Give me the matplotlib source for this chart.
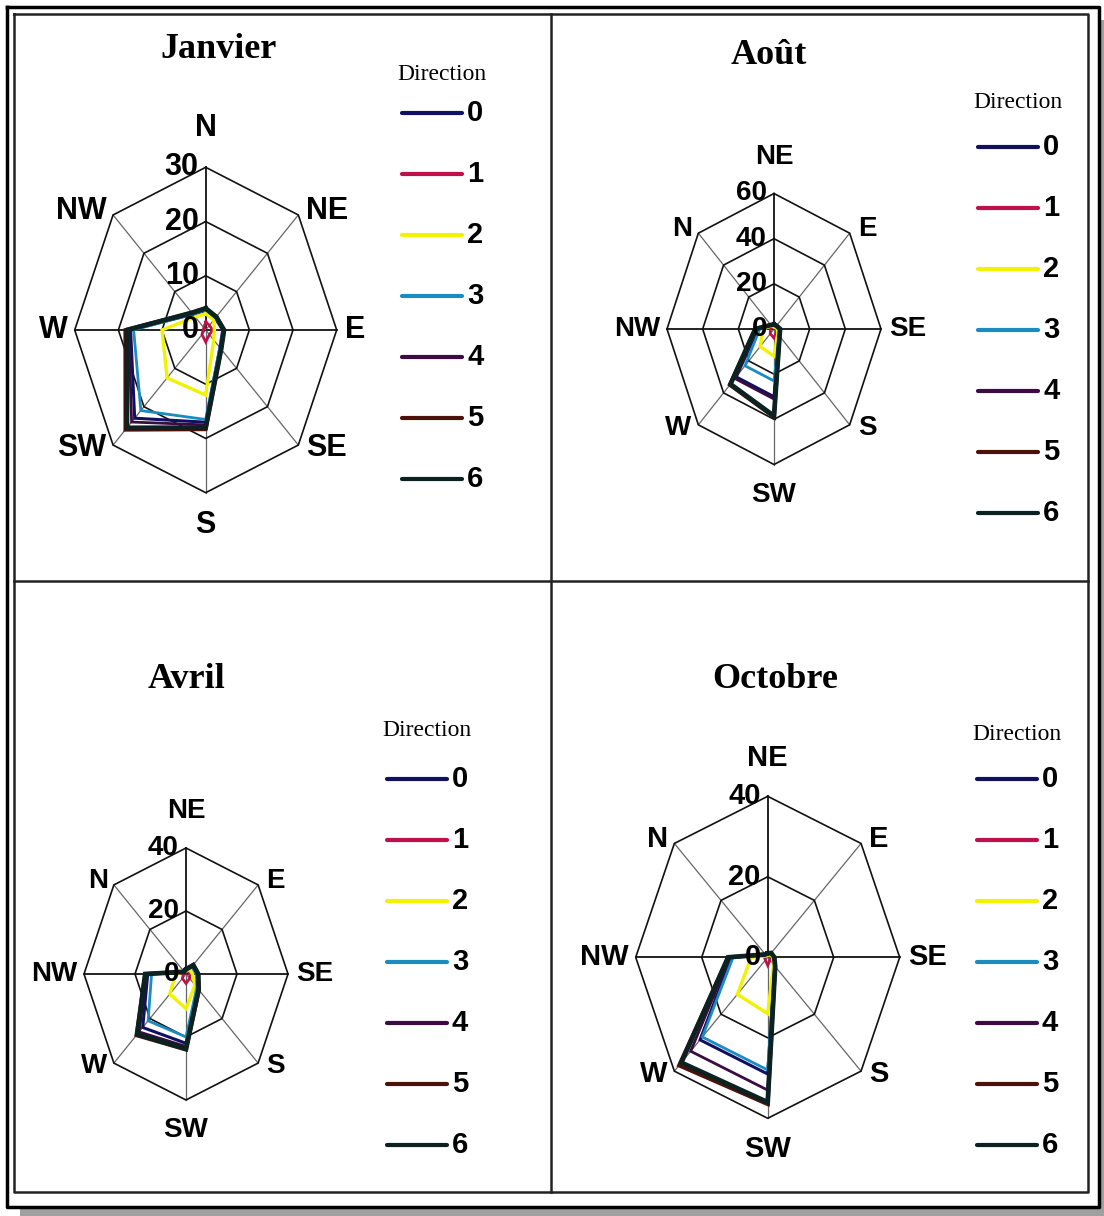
import matplotlib.pyplot as plt
import numpy as np

# wind roses: frequency (%) per direction for classes 0..6
dirs_jan = ['N', 'NE', 'E', 'SE', 'S', 'SW', 'W', 'NW']
dirs_other = ['NE', 'E', 'SE', 'S', 'SW', 'W', 'NW', 'N']
classes = ['0', '1', '2', '3', '4', '5', '6']

janvier = [
    [3.6, 3.1, 3.9, 4.6, 17.0, 23.0, 17.2, 4.1],
    [1.5, 1.2, 1.6, 1.2, 2.2, 1.2, 0.6, 0.6],
    [3.0, 2.6, 2.0, 2.6, 12.0, 12.5, 10.0, 3.4],
    [3.7, 3.2, 4.0, 4.6, 16.5, 21.0, 16.5, 4.2],
    [3.9, 3.3, 4.1, 4.8, 17.5, 24.0, 17.6, 4.3],
    [4.0, 3.5, 4.2, 5.0, 18.3, 26.0, 18.4, 4.5],
    [4.0, 3.4, 4.2, 5.0, 18.0, 25.5, 18.0, 4.5],
]
aout = [
    [2.0, 2.0, 3.0, 4.0, 30.0, 30.0, 9.0, 2.5],
    [1.0, 1.5, 2.0, 2.0, 4.0, 3.0, 2.0, 1.0],
    [1.0, 1.0, 2.0, 3.0, 12.0, 11.0, 6.0, 2.0],
    [2.0, 2.0, 3.0, 4.0, 23.0, 23.0, 8.0, 2.5],
    [2.0, 2.0, 3.2, 4.2, 31.0, 31.0, 9.5, 2.5],
    [2.0, 2.0, 3.4, 4.4, 39.0, 35.0, 10.5, 2.5],
    [2.0, 2.0, 3.4, 4.4, 38.5, 34.5, 10.5, 2.5],
]
avril = [
    [1.2, 3.5, 4.5, 6.5, 22.0, 24.0, 15.0, 1.0],
    [1.5, 1.5, 1.5, 2.0, 3.0, 2.0, 1.0, 0.5],
    [1.0, 2.0, 2.5, 5.0, 11.0, 9.0, 4.0, 1.0],
    [1.2, 3.2, 4.0, 6.0, 20.0, 21.0, 13.5, 1.0],
    [1.3, 3.8, 4.6, 6.8, 23.0, 26.0, 15.5, 1.0],
    [1.5, 4.0, 4.8, 7.2, 24.0, 27.5, 16.0, 1.0],
    [1.5, 4.0, 4.8, 7.0, 23.8, 27.0, 16.0, 1.0],
]
octobre = [
    [1.0, 1.5, 2.0, 3.0, 29.0, 29.0, 11.0, 1.0],
    [1.0, 1.0, 1.0, 1.0, 2.0, 1.0, 1.0, 0.5],
    [0.5, 1.0, 1.5, 2.5, 14.0, 13.0, 5.0, 0.5],
    [1.0, 1.5, 2.0, 3.0, 28.0, 28.0, 10.5, 1.0],
    [1.0, 1.5, 2.0, 3.1, 33.0, 33.0, 11.5, 1.0],
    [1.0, 1.5, 2.0, 3.2, 36.5, 38.0, 12.0, 1.0],
    [1.0, 1.5, 2.0, 3.2, 36.0, 37.0, 12.0, 1.0],
]
jan_ticks = [0, 10, 20, 30]
aout_ticks = [0, 20, 40, 60]
avril_ticks = [0, 20, 40]
oct_ticks = [0, 20, 40]

colors = ['#101060', '#c0104a', '#f2f200', '#1a8cc0', '#3a0c40', '#4a1208', '#0c2220']
widths = [2.2, 2.0, 2.4, 2.0, 2.0, 2.8, 3.4]

W, H = 1104, 1216
sans = ['Liberation Sans Narrow', 'Liberation Sans', 'DejaVu Sans']
serif = ['Liberation Serif', 'DejaVu Serif']

fig = plt.figure(figsize=(W / 100, H / 100), dpi=100)
bg = fig.add_axes([0, 0, 1, 1])
bg.set_xlim(0, W)
bg.set_ylim(H, 0)
bg.axis('off')

# frame, shadow and dividers
bg.fill_between([1099, 1104], 20, 1216, color='#a0a0a0', lw=0)
bg.fill_between([20, 1104], 1207, 1216, color='#a0a0a0', lw=0)
bg.plot([7, 1099, 1099, 7, 7], [7, 7, 1207, 1207, 7], color='black', lw=2.5)
bg.plot([14, 1088, 1088, 14, 14], [14, 14, 1192, 1192, 14], color='#222222', lw=1.8)
bg.plot([551, 551], [14, 1192], color='#222222', lw=1.8)
bg.plot([14, 1088], [581, 581], color='#222222', lw=1.8)


def legend(x0, x1, ytitle, y0):
    bg.text((x0 + x1) / 2 + 10, ytitle, 'Direction', family=serif, fontsize=17,
            ha='center', va='center')
    for k, lab in enumerate(classes):
        y = y0 + k * 61
        bg.plot([x0, x1], [y, y], color=colors[k], lw=3, solid_capstyle='round')
        bg.text(x1 + 5, y, lab, family=sans, fontsize=21, fontweight='bold',
                ha='left', va='center')


def radar(vals, dirs, ticks, cx, cy, rh, rv, fs):
    R = ticks[-1]
    k = 1.6
    ax = fig.add_axes([(cx - k * rh) / W, (H - cy - k * rv) / H, 2 * k * rh / W, 2 * k * rv / H])
    ax.set_xlim(-k * R, k * R)
    ax.set_ylim(-k * R, k * R)
    ax.axis('off')
    ax.patch.set_alpha(0)
    ang = np.arange(8) * np.pi / 4
    angc = np.append(ang, 0)
    for i, a in enumerate(ang):
        dark = i in (0, 2, 6)
        ax.plot([0, R * np.sin(a)], [0, R * np.cos(a)],
                color='#111111' if dark else '#666666', lw=1.3 if dark else 0.9)
    for t in ticks[1:]:
        ax.plot(t * np.sin(angc), t * np.cos(angc), color='#111111', lw=1.2)
    for s, row in enumerate(vals):
        r = np.append(row, row[0])
        ax.plot(r * np.sin(angc), r * np.cos(angc), color=colors[s], lw=widths[s],
                solid_joinstyle='miter')
    offs = [(0, 24, 'center', 'bottom'), (8, 4, 'left', 'center'), (8, 0, 'left', 'center'),
            (8, -3, 'left', 'center'), (0, -17, 'center', 'top'), (-7, -3, 'right', 'center'),
            (-7, 0, 'right', 'center'), (-6, 4, 'right', 'center')]
    for i, (lab, a) in enumerate(zip(dirs, ang)):
        dx, dy, ha, va = offs[i]
        ax.annotate(lab, xy=(R * np.sin(a), R * np.cos(a)), xytext=(dx * 0.72, dy * 0.72),
                    textcoords='offset points', ha=ha, va=va, family=sans,
                    fontsize=fs, fontweight='bold')
    for t in ticks:
        ax.annotate(str(t), xy=(0, t), xytext=(-7 * 0.72, 0), textcoords='offset points',
                    ha='right', va='center', family=sans, fontsize=fs, fontweight='bold')
    return ax


radar(janvier, dirs_jan, jan_ticks, 205.7, 330, 131, 162.7, 22)
radar(aout, dirs_other, aout_ticks, 774, 329, 107, 135.5, 20)
radar(avril, dirs_other, avril_ticks, 186, 974, 102, 126, 20)
radar(octobre, dirs_other, oct_ticks, 767.7, 957.3, 132, 161, 21)

legend(402, 462, 74, 113)
legend(978, 1038, 103, 147)
legend(387, 447, 730, 779)
legend(977, 1037, 735, 779)

for title, x, y in [('Janvier', 219, 50), ('Août', 769, 55), ('Avril', 187, 680), ('Octobre', 775, 680)]:
    bg.text(x, y, title, family=serif, fontsize=26, fontweight='bold', ha='center', va='center')

fig.savefig('out.png', dpi=100)
